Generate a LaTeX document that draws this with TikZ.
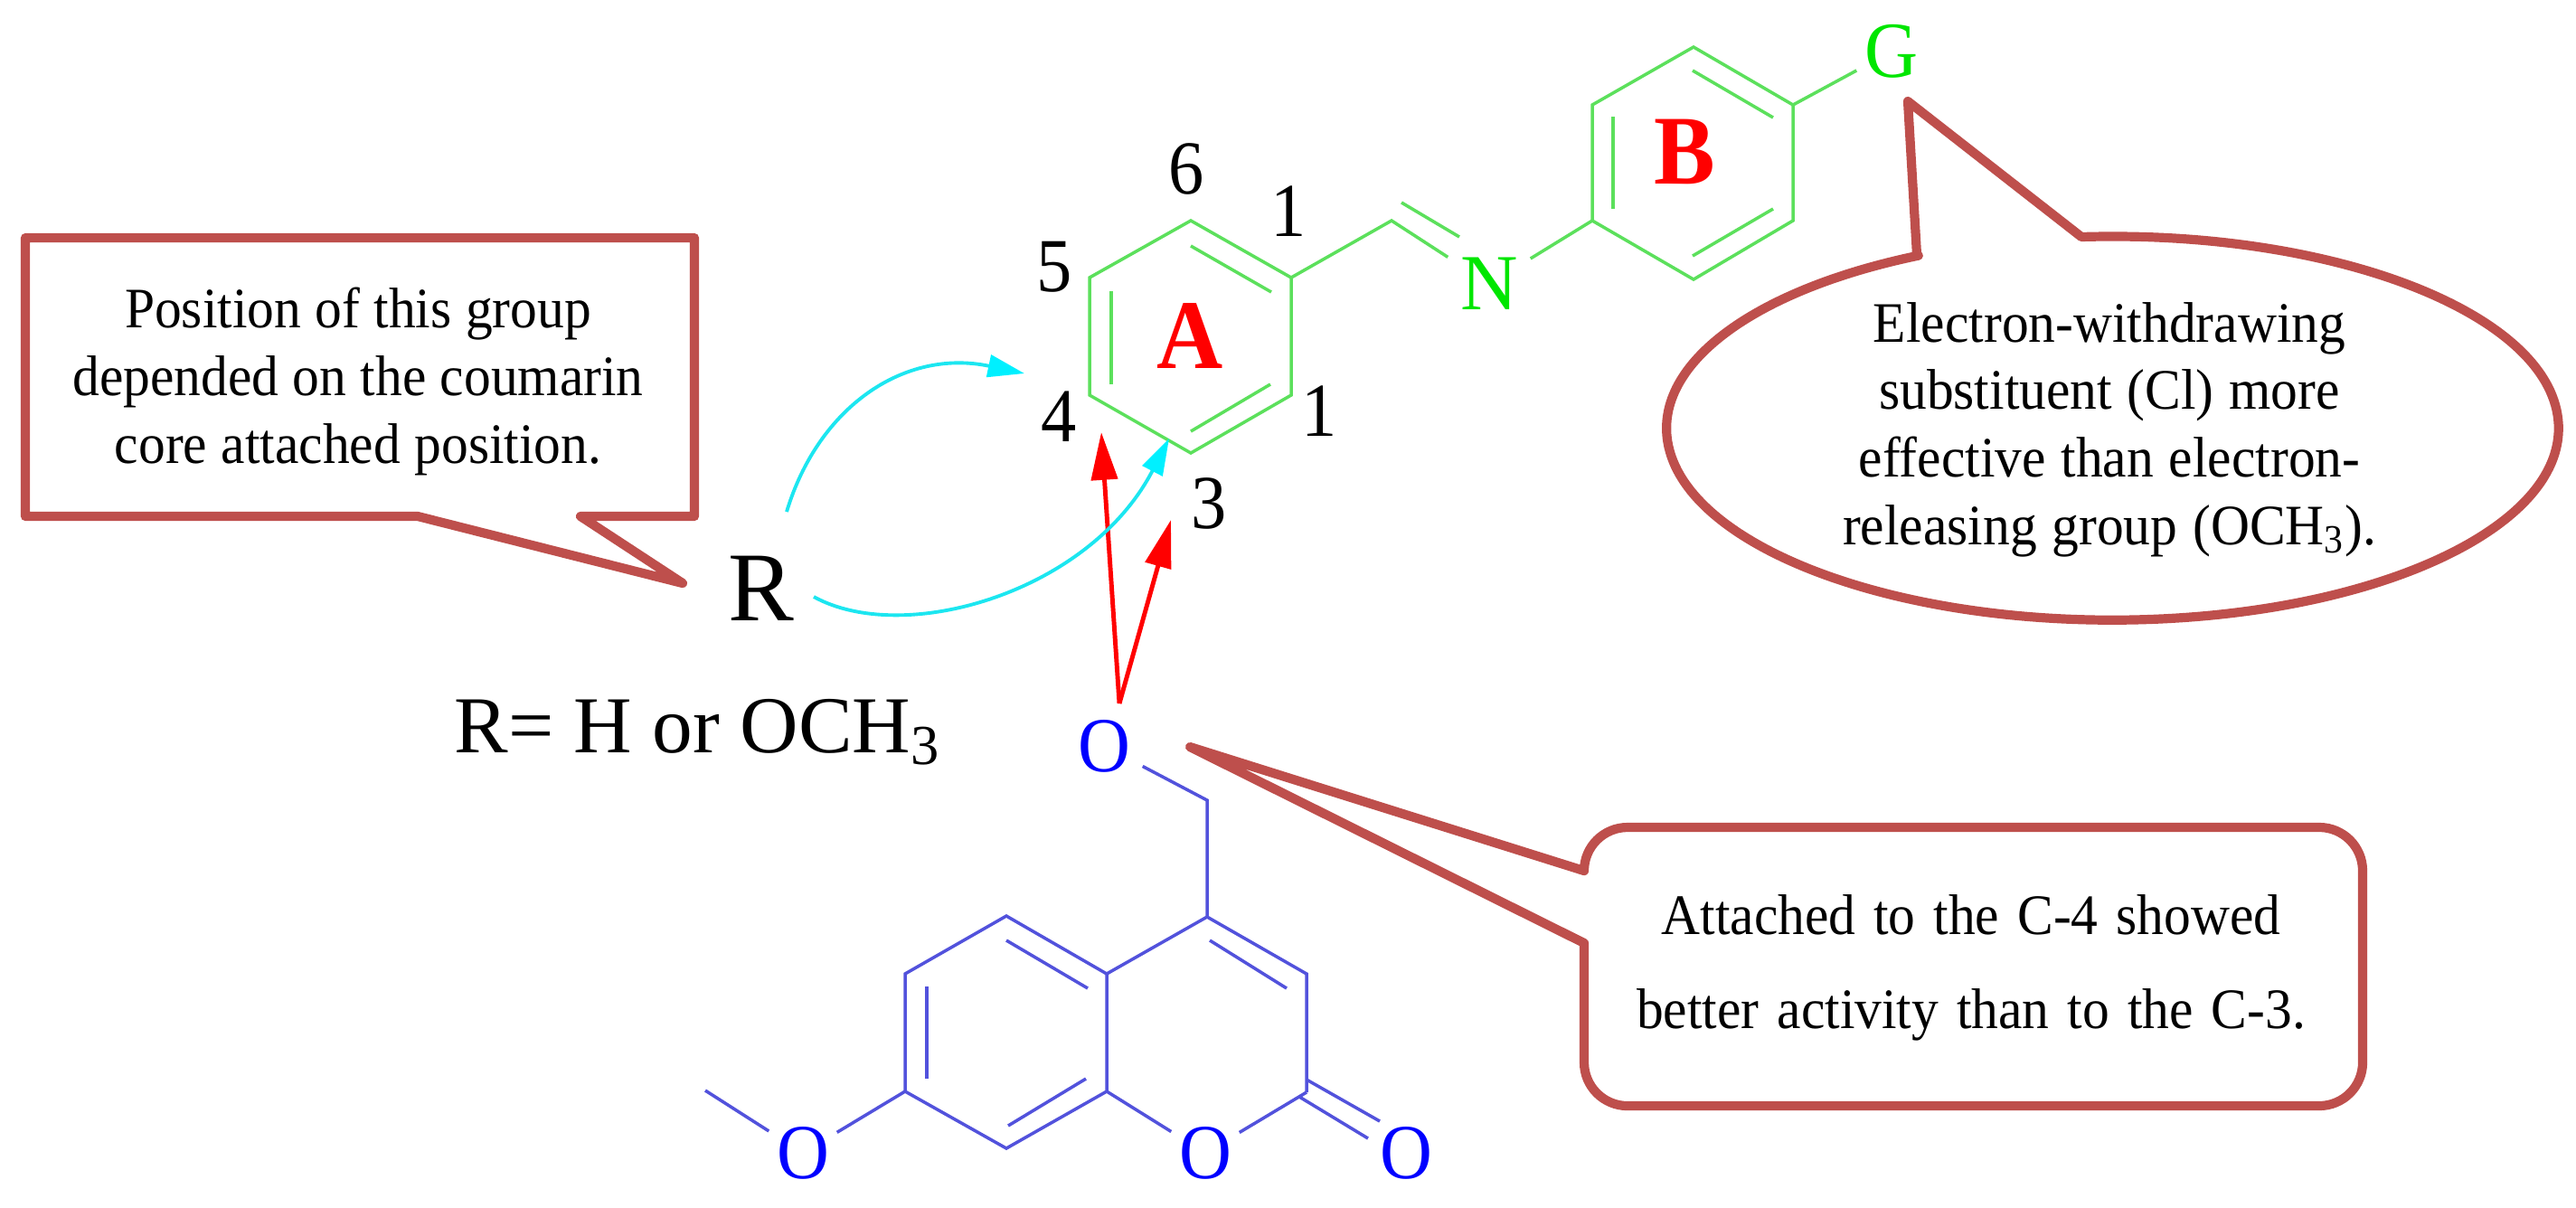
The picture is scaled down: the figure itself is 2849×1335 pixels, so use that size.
\documentclass[tikz,border=0pt]{standalone}
\usepackage{fontspec}
\setmainfont{Liberation Serif}
\newfontfamily\labelserif{Liberation Serif}[FakeStretch=0.93]
\newfontfamily\notefont{Liberation Serif}[FakeStretch=0.94]
\usetikzlibrary{arrows.meta}
\definecolor{calloutred}{HTML}{BE4F4C}
\definecolor{bondgreen}{HTML}{5CE05C}
\definecolor{bondblue}{HTML}{5252DC}
\definecolor{atomgreen}{HTML}{00E600}
\definecolor{arrowcyan}{HTML}{1CE6F0}
\definecolor{headcyan}{HTML}{00F0FF}
\tikzset{
  callout/.style={draw=calloutred,line width=2.9pt,line join=round,fill=none},
  note/.style={align=center,inner sep=0pt,text=black},
  gbond/.style={draw=bondgreen,line width=1pt},
  bbond/.style={draw=bondblue,line width=1pt},
  gatom/.style={text=atomgreen,inner sep=0pt,minimum width=.9cm,minimum height=.72cm,font=\fontsize{25}{25}\selectfont},
  batom/.style={text=blue,inner sep=0pt,minimum width=.74cm,minimum height=.72cm,font=\labelserif\fontsize{24.5}{25}\selectfont},
  ringlabel/.style={text=red,inner sep=0pt,font=\labelserif\fontsize{31}{31}\selectfont\bfseries},
  num/.style={text=black,inner sep=0pt,font=\labelserif\fontsize{24}{24}\selectfont},
  redarrow/.style={draw=red,line width=1.4pt,-{Triangle[length=15pt,width=8.2pt]}},
  cyanarrow/.style={draw=arrowcyan,line width=1.1pt,-{Triangle[length=11.5pt,width=7pt,fill=headcyan,color=headcyan]}},
}
\begin{document}
\begin{tikzpicture}[x=0.01cm,y=-0.01cm]
\useasboundingbox (0,0) rectangle (2849,1335);
% ---- ring A
\coordinate (a1) at (1317,244); \coordinate (a2) at (1428,307); \coordinate (a3) at (1428,437);
\coordinate (a4) at (1317,501); \coordinate (a5) at (1205,437); \coordinate (a6) at (1205,307);
\coordinate (ai1) at (1317,272); \coordinate (ai2) at (1406,323);
\coordinate (ai3) at (1229,322); \coordinate (ai4) at (1229,425);
\coordinate (ai5) at (1317,477); \coordinate (ai6) at (1405,425);
\draw[gbond,line join=miter] (a1)--(a2)--(a3)--(a4)--(a5)--(a6)--cycle;
\draw[gbond] (ai1)--(ai2); \draw[gbond] (ai3)--(ai4); \draw[gbond] (ai5)--(ai6);
% ---- imine
\coordinate (ch) at (1539,244);
\coordinate (ch2a) at (1550,224); \coordinate (ch2b) at (1614,262);
\node[gatom] (N) at (1647,314) {N};
\draw[gbond] (a2)--(ch)--(N);
\draw[gbond] (ch2a)--(ch2b);
% ---- ring B
\coordinate (b1) at (1761,244); \coordinate (b2) at (1761,116); \coordinate (b3) at (1873,52);
\coordinate (b4) at (1983,116); \coordinate (b5) at (1983,244); \coordinate (b6) at (1873,309);
\coordinate (bi1) at (1872,78); \coordinate (bi2) at (1961,130);
\coordinate (bi3) at (1784,129); \coordinate (bi4) at (1784,231);
\coordinate (bi5) at (1872,283); \coordinate (bi6) at (1961,231);
\draw[gbond,line join=miter] (b1)--(b2)--(b3)--(b4)--(b5)--(b6)--cycle;
\draw[gbond] (bi1)--(bi2); \draw[gbond] (bi3)--(bi4); \draw[gbond] (bi5)--(bi6);
\draw[gbond] (N)--(b1);
\node[gatom,minimum width=.76cm,font=\labelserif\fontsize{25}{25}\selectfont] (G) at (2092,57) {G};
\draw[gbond] (b4)--(G);
\node[ringlabel] (ringA) at (1316,371) {A};
\node[ringlabel] (ringB) at (1863,168) {B};
% ---- numbers
\node[num] (n6) at (1312,187) {6};
\node[num] (n1a) at (1425,234) {1};
\node[num] (n5) at (1166,295) {5};
\node[num] (n4) at (1171,461) {4};
\node[num] (n1b) at (1459,455) {1};
\node[num] (n3) at (1337,557) {3};
% ---- coumarin
\node[batom,minimum width=.84cm] (O1) at (1221,825) {O};
\coordinate (ch2) at (1335,885);
\coordinate (c4) at (1335,1014); \coordinate (c3) at (1445,1077); \coordinate (c2) at (1445,1208);
\coordinate (c8a) at (1224,1207); \coordinate (c4a) at (1224,1077);
\coordinate (c5) at (1113,1013); \coordinate (c6) at (1001,1077); \coordinate (c7) at (1001,1207);
\coordinate (c8) at (1113,1270);
\node[batom] (Or) at (1333,1275) {O};
\node[batom] (Om) at (888,1275) {O};
\node[batom] (Oc) at (1555,1275) {O};
\coordinate (me) at (780,1206);
\coordinate (co1a) at (1445,1194); \coordinate (co1b) at (1526,1240);
\coordinate (co2a) at (1437,1213); \coordinate (co2b) at (1513,1259);
\coordinate (ci1) at (1113,1040); \coordinate (ci2) at (1203,1093);
\coordinate (ci3) at (1025,1091); \coordinate (ci4) at (1025,1193);
\coordinate (ci5) at (1115,1245); \coordinate (ci6) at (1201,1193);
\coordinate (ci7) at (1338,1040); \coordinate (ci8) at (1423,1093);
\draw[bbond] (O1)--(ch2)--(c4);
\draw[bbond,line join=miter] (c4)--(c3)--(c2);
\draw[bbond,line join=miter] (c4)--(c4a)--(c5)--(c6)--(c7)--(c8)--(c8a)--(c4a);
\draw[bbond] (c8a)--(Or); \draw[bbond] (c2)--(Or);
\draw[bbond] (c7)--(Om); \draw[bbond] (me)--(Om);
\draw[bbond] (co1a)--(co1b); \draw[bbond] (co2a)--(co2b);
\draw[bbond] (ci1)--(ci2); \draw[bbond] (ci3)--(ci4); \draw[bbond] (ci5)--(ci6); \draw[bbond] (ci7)--(ci8);
% ---- R labels
\node[inner sep=0pt,font=\fontsize{31}{31}\selectfont] (R) at (842,651) {R};
\node[inner sep=0pt,anchor=base west,font=\fontsize{25.4}{25}\selectfont] (Rdef) at (502,832) {R= H or OCH\textsubscript{3}};
% ---- arrows
\coordinate (rs) at (1238,778);
\coordinate (rt1) at (1218,478); \coordinate (rt2) at (1295,575);
\draw[redarrow] (rs)--(rt1);
\draw[redarrow] (rs)--(rt2);
\coordinate (cs1) at (870,566); \coordinate (ct1) at (1133,413);
\coordinate (cs2) at (900,660); \coordinate (ct2) at (1293,485);
\draw[cyanarrow] (cs1) .. controls (905,450) and (1000,385) .. (ct1);
\draw[cyanarrow] (cs2) .. controls (1000,715) and (1205,655) .. (ct2);
% ---- callout 1
\coordinate (t1) at (755,645);
\draw[callout] (462,571) -- (t1) -- (642,571) -- (768,571) -- (768,263) -- (28,263) -- (28,571) -- cycle;
\node[note,font={\notefont\fontsize{18}{21.3}\selectfont\spaceskip=4.4pt\relax}] (txt1) at (396,422) {Position of this group\\depended on the coumarin\\core attached position.};
% ---- callout 2
\coordinate (t2) at (2110,112);
\draw[callout] (2120,282) -- (t2) -- (2302,262) arc[start angle=94,end angle=-244.2,x radius=4.93cm,y radius=2.12cm] -- cycle;
\node[note,font={\notefont\fontsize{18}{21.25}\selectfont\spaceskip=4.8pt\relax}] (txt2) at (2333,475) {Electron-withdrawing\\substituent (Cl) more\\effective than electron-\\releasing group (OCH\textsubscript{3}).};
% ---- callout 3
\coordinate (t3) at (1316,826);
\draw[callout] (1752,1043) -- (1752,1175) arc[start angle=180,end angle=270,radius=.48cm] -- (2565,1223) arc[start angle=270,end angle=360,radius=.48cm] -- (2613,963) arc[start angle=0,end angle=90,radius=.48cm] -- (1800,915) arc[start angle=90,end angle=180,radius=.48cm] -- (t3) -- cycle;
\node[note,font={\notefont\fontsize{18}{29.6}\selectfont\spaceskip=5.7pt\relax}] (txt3) at (2180,1070) {Attached to the C-4 showed\\better activity than to the C-3.};
\end{tikzpicture}
\end{document}
